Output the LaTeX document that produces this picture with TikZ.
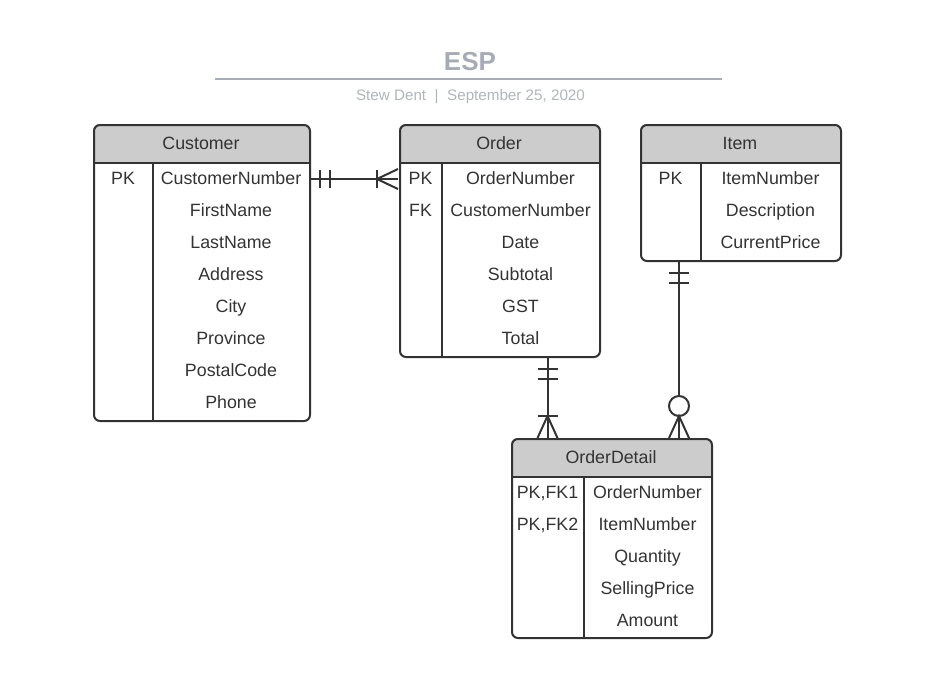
\documentclass[tikz,border=0pt]{standalone}
\usepackage{fontspec}
\setmainfont{Liberation Sans}
\usetikzlibrary{calc}
\definecolor{hdrgray}{HTML}{CCCCCC}
\definecolor{linegray}{HTML}{333333}
\definecolor{titlegray}{HTML}{A6ABB5}
\definecolor{subgray}{HTML}{B0B4BC}

\begin{document}
\begin{tikzpicture}[x=1pt, y=-1pt, line width=2pt, draw=linegray,
  tbl/.style={draw=linegray, rounded corners=6, inner sep=0, anchor=north west},
  fld/.style={inner sep=0, minimum height=32, text height=11, text depth=0,
    font=\fontsize{17.8}{20}\selectfont, text=linegray},
  rel/.style={draw=linegray, line width=2pt}]
\useasboundingbox (0,0) rectangle (934,678);
% title
\node[inner sep=0, text height=18.6, text depth=0, text=titlegray,
  font=\bfseries\fontsize{26}{30}\selectfont] (ttl) at (470,61) {ESP};
\draw[titlegray] (215,79) -- (722,79);
\node[inner sep=0, text height=10.7, text depth=0, text=subgray,
  font=\fontsize{15.2}{18}\selectfont] (sub) at (470.5,95)
  {Stew Dent\hspace{8.5pt}|\hspace{8.5pt}September 25, 2020};
% Customer
\begin{scope}
\clip[rounded corners=6] (93,124) rectangle (309,420);
\fill[hdrgray] (93,124) rectangle (309,163);
\end{scope}
\node[tbl, minimum width=216, minimum height=296] (cust) at (93,124) {};
\draw (93,163) -- (309,163);
\draw (153,163) -- (153,420);
\node[fld] (cust-h) at (201,143.5) {Customer};
\node[fld, minimum width=60] (cust-k1) at (123,179) {PK};
\foreach \f [count=\i] in {CustomerNumber,FirstName,LastName,Address,City,Province,PostalCode,Phone}
  \node[fld, minimum width=156] (cust-f\i) at (231,147+32*\i) {\f};
% Order
\begin{scope}
\clip[rounded corners=6] (399,124) rectangle (599,356);
\fill[hdrgray] (399,124) rectangle (599,163);
\end{scope}
\node[tbl, minimum width=200, minimum height=232] (ord) at (399,124) {};
\draw (399,163) -- (599,163);
\draw (442,163) -- (442,356);
\node[fld] (ord-h) at (499,143.5) {Order};
\node[fld, minimum width=43] (ord-k1) at (420.5,179) {PK};
\node[fld, minimum width=43] (ord-k2) at (420.5,211) {FK};
\foreach \f [count=\i] in {OrderNumber,CustomerNumber,Date,Subtotal,GST,Total}
  \node[fld, minimum width=157] (ord-f\i) at (520.5,147+32*\i) {\f};
% Item
\begin{scope}
\clip[rounded corners=6] (640,124) rectangle (840,260);
\fill[hdrgray] (640,124) rectangle (840,163);
\end{scope}
\node[tbl, minimum width=200, minimum height=136] (itm) at (640,124) {};
\draw (640,163) -- (840,163);
\draw (701,163) -- (701,260);
\node[fld] (itm-h) at (740,143.5) {Item};
\node[fld, minimum width=61] (itm-k1) at (670.5,179) {PK};
\foreach \f [count=\i] in {ItemNumber,Description,CurrentPrice}
  \node[fld, minimum width=139] (itm-f\i) at (770.5,147+32*\i) {\f};
% OrderDetail
\begin{scope}
\clip[rounded corners=6] (511,438) rectangle (711,637);
\fill[hdrgray] (511,438) rectangle (711,477);
\end{scope}
\node[tbl, minimum width=200, minimum height=199] (od) at (511,438) {};
\draw (511,477) -- (711,477);
\draw (584,477) -- (584,637);
\node[fld] (od-h) at (611,457.5) {OrderDetail};
\node[fld, minimum width=73] (od-k1) at (547.5,493) {PK,FK1};
\node[fld, minimum width=73] (od-k2) at (547.5,525) {PK,FK2};
\foreach \f [count=\i] in {OrderNumber,ItemNumber,Quantity,SellingPrice,Amount}
  \node[fld, minimum width=127] (od-f\i) at (647.5,461+32*\i) {\f};
% Customer -- Order
\draw[rel] (cust-f1.east) -- (ord-k1.west);
\draw[rel] ($(cust-f1.east)+(10,-9)$) -- ++(0,18);
\draw[rel] ($(cust-f1.east)+(20,-9)$) -- ++(0,18);
\draw[rel] ($(ord-k1.west)+(-21,-9)$) -- ++(0,18);
\draw[rel] ($(ord-k1.west)+(0,-10)$) -- ($(ord-k1.west)+(-21,0)$) -- ($(ord-k1.west)+(0,10)$);
% Order -- OrderDetail
\draw[rel] (ord.south -| od-k1) -- (od.north -| od-k1);
\draw[rel] ($(ord.south -| od-k1)+(-10,11)$) -- ++(20,0);
\draw[rel] ($(ord.south -| od-k1)+(-10,21)$) -- ++(20,0);
\draw[rel] ($(od.north -| od-k1)+(-10,-22)$) -- ++(20,0);
\draw[rel] ($(od.north -| od-k1)+(-10,0)$) -- ($(od.north -| od-k1)+(0,-22)$) -- ($(od.north -| od-k1)+(10,0)$);
% Item -- OrderDetail
\coordinate (itm-od) at (679,0);
\draw[rel] (itm.south -| itm-od) -- (od.north -| itm-od);
\draw[rel] ($(itm.south -| itm-od)+(-10,11)$) -- ++(20,0);
\draw[rel] ($(itm.south -| itm-od)+(-10,21)$) -- ++(20,0);
\draw[rel, fill=white] ($(od.north -| itm-od)+(0,-32)$) circle (10);
\draw[rel] ($(od.north -| itm-od)+(-10,0)$) -- ($(od.north -| itm-od)+(0,-22)$) -- ($(od.north -| itm-od)+(10,0)$);
\end{tikzpicture}
\end{document}
